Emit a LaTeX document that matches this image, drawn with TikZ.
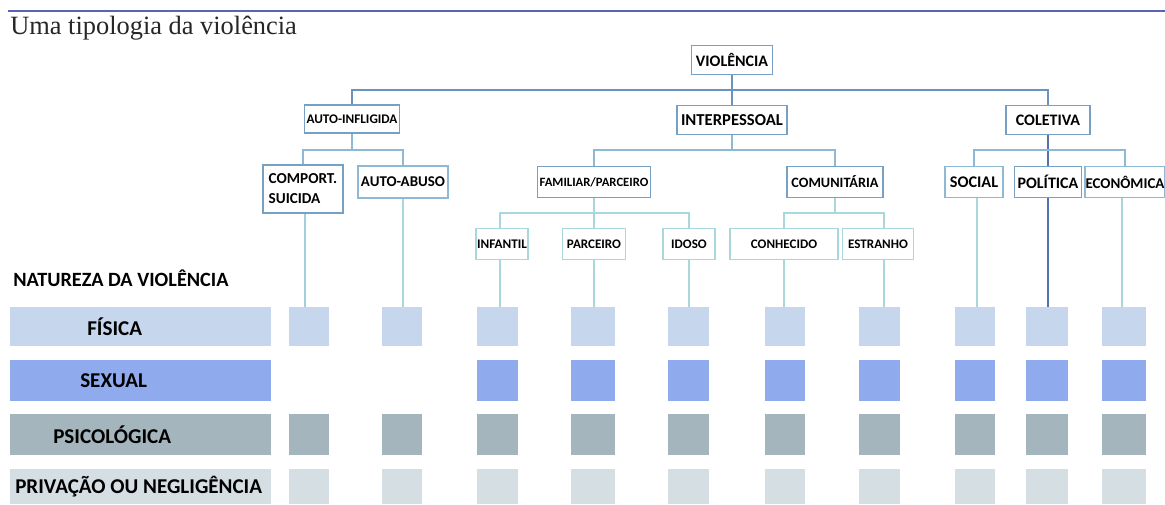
\documentclass[tikz,border=0pt]{standalone}
\usepackage{fontspec}
\setmainfont{Carlito}
\newfontfamily\titlefont{Liberation Serif}
\definecolor{topline}{HTML}{5B63B5}
\definecolor{boxline}{HTML}{76A0C4}
\definecolor{lineA}{HTML}{6A94BE}
\definecolor{lineB}{HTML}{8EB9D4}
\definecolor{lineC}{HTML}{A8D7DC}
\definecolor{linePol}{HTML}{5272B0}
\definecolor{cFis}{HTML}{C6D6EC}
\definecolor{cSex}{HTML}{8FABED}
\definecolor{cPsi}{HTML}{A4B5BD}
\definecolor{cPri}{HTML}{D5DEE3}
\begin{document}
\begin{tikzpicture}[x=0.75pt,y=-0.75pt,
  bx/.style={draw=boxline,line width=1.4pt,fill=white,inner sep=0pt,align=center,font=\bfseries},
  lA/.style={draw=lineA,line width=1.6pt},
  lB/.style={draw=lineB,line width=1.4pt},
  lC/.style={draw=lineC,line width=1.4pt},
  lP/.style={draw=linePol,line width=1.6pt},
  rowlab/.style={anchor=west,inner sep=0pt,font=\fontsize{15.8}{18}\selectfont\bfseries}]
\useasboundingbox (0,0) rectangle (1165,504);
% title
\draw[topline,line width=1.6pt] (8,11) -- (1165,11);
\node[anchor=base west,inner sep=0pt,text=black!85,font=\titlefont\fontsize{19.8}{22}\selectfont] (title) at (10,34) {Uma tipologia da violência};
% tree nodes
\node[bx,minimum width=60.75pt,minimum height=21.75pt,font=\fontsize{12}{13}\selectfont\bfseries] (viol) at (732,60) {VIOLÊNCIA};
\node[bx,minimum width=71.25pt,minimum height=21pt,font=\fontsize{9.9}{11}\selectfont\bfseries] (auto) at (352,119) {AUTO-INFLIGIDA};
\node[bx,minimum width=82.5pt,minimum height=21.75pt,font=\fontsize{12.5}{13}\selectfont\bfseries] (inter) at (732,120) {INTERPESSOAL};
\node[bx,minimum width=63pt,minimum height=21.75pt,font=\fontsize{12}{13}\selectfont\bfseries] (colet) at (1048,120) {COLETIVA};
\node[bx,minimum width=60pt,minimum height=36pt,align=left,font=\fontsize{11.4}{15}\selectfont\bfseries] (comp) at (303,189) {COMPORT.\\SUICIDA};
\node[bx,draw=lineB,minimum width=67.5pt,minimum height=24pt,font=\fontsize{11.2}{13}\selectfont\bfseries] (abuso) at (403,182) {AUTO-ABUSO};
\node[bx,minimum width=84.75pt,minimum height=23.25pt,font=\fontsize{9.5}{11}\selectfont\bfseries] (famil) at (594,182) {FAMILIAR/PARCEIRO};
\node[bx,minimum width=72pt,minimum height=23.25pt,font=\fontsize{10.7}{12}\selectfont\bfseries] (comun) at (835,182) {COMUNITÁRIA};
\node[bx,draw=lineC,minimum width=39pt,minimum height=23.25pt,font=\fontsize{9.9}{11}\selectfont\bfseries] (infan) at (502,244) {INFANTIL};
\node[bx,draw=lineC,minimum width=47.25pt,minimum height=23.25pt,font=\fontsize{9.8}{11}\selectfont\bfseries] (parce) at (594,244) {PARCEIRO};
\node[bx,draw=lineC,minimum width=39pt,minimum height=23.25pt,font=\fontsize{9.8}{11}\selectfont\bfseries] (idoso) at (689,244) {IDOSO};
\node[bx,draw=lineC,minimum width=81pt,minimum height=23.25pt,font=\fontsize{9.8}{11}\selectfont\bfseries] (conhe) at (784,244) {CONHECIDO};
\node[bx,draw=lineC,minimum width=53.25pt,minimum height=23.25pt,font=\fontsize{9.8}{11}\selectfont\bfseries] (estra) at (878,244) {ESTRANHO};
\node[bx,draw=lineB,minimum width=43.5pt,minimum height=23.25pt,font=\fontsize{12.2}{13}\selectfont\bfseries] (social) at (974,182) {SOCIAL};
\node[bx,minimum width=50.25pt,minimum height=23.25pt,font=\fontsize{12}{13}\selectfont\bfseries] (polit) at (1048,182) {POLÍTICA};
\node[bx,draw=lineB,minimum width=60pt,minimum height=23.25pt,font=\fontsize{11.2}{13}\selectfont\bfseries] (econ) at (1125,182) {ECONÔMICA};
% bus coordinates
\coordinate (b1) at (0,90);
\coordinate (b2) at (0,150);
\coordinate (b3) at (0,213);
% level 1
\draw[lA] (viol.south) -- (inter.north);
\draw[lA] (viol.south |- b1) -| (auto.north);
\draw[lA] (viol.south |- b1) -| (colet.north);
% under auto
\draw[lB] (auto.south) -- (auto.south |- b2) -| (comp.north);
\draw[lB] (auto.south |- b2) -| (abuso.north);
% under interpessoal
\draw[lB] (inter.south) -- (inter.south |- b2) -| (famil.north);
\draw[lB] (inter.south |- b2) -| (comun.north);
% under coletiva
\draw[lP] (colet.south) -- (polit.north);
\draw[lB] (colet.south |- b2) -| (social.north);
\draw[lB] (colet.south |- b2) -| (econ.north);
% under familiar
\draw[lC] (famil.south) -- (parce.north);
\draw[lC] (famil.south |- b3) -| ([xshift=-1.5pt]infan.north);
\draw[lC] (famil.south |- b3) -| (idoso.north);
% under comunitaria
\draw[lC] (comun.south) -- (comun.south |- b3) -| (conhe.north);
\draw[lC] (comun.south |- b3) -| ([xshift=4.5pt]estra.north);
% row labels
\node[anchor=west,inner sep=0pt,font=\fontsize{15.2}{18}\selectfont\bfseries] (natur) at (13,278) {NATUREZA DA VIOLÊNCIA};
\fill[cFis] (10,307) rectangle (271,346);
\fill[cSex] (10,360) rectangle (271,401);
\fill[cPsi] (10,414) rectangle (271,455);
\fill[cPri] (10,469) rectangle (271,504);
\node[rowlab] (lfis) at (87,327) {FÍSICA};
\node[rowlab] (lsex) at (80,381) {SEXUAL};
\node[rowlab] (lpsi) at (53,435) {PSICOLÓGICA};
\node[rowlab] (lpri) at (15,487) {PRIVAÇÃO OU NEGLIGÊNCIA};
% squares
\foreach \n/\a/\b in {1/289/329,2/382/422,3/477/518,4/571/615,5/668/709,6/765/805,7/859/900,8/955/995,9/1026/1068,10/1102/1146}{
  \fill[cFis] (\a,307) rectangle (\b,346);
  \coordinate (ft\n) at ({(\a+\b)/2},307);
  \fill[cPsi] (\a,414) rectangle (\b,455);
  \fill[cPri] (\a,469) rectangle (\b,504);
}
\foreach \a/\b in {477/518,571/615,668/709,765/805,859/900,955/995,1026/1068,1102/1146}{
  \fill[cSex] (\a,360) rectangle (\b,401);
}
% verticals to squares
\draw[lC,draw=lineC!75!lineB] ([xshift=1.5pt]comp.south) -- ([xshift=1.5pt]comp.south |- ft1);
\draw[lC] (abuso.south) -- (abuso.south |- ft2);
\draw[lC] ([xshift=-1.5pt]infan.south) -- ([xshift=-1.5pt]infan.south |- ft3);
\draw[lC] (parce.south) -- (parce.south |- ft4);
\draw[lC] (idoso.south) -- (idoso.south |- ft5);
\draw[lC] (conhe.south) -- (conhe.south |- ft6);
\draw[lC] ([xshift=4.5pt]estra.south) -- ([xshift=4.5pt]estra.south |- ft7);
\draw[lC] ([xshift=2pt]social.south) -- ([xshift=2pt]social.south |- ft8);
\draw[lP] (polit.south) -- (polit.south |- ft9);
\draw[lC] ([xshift=-2.25pt]econ.south) -- ([xshift=-2.25pt]econ.south |- ft10);
\end{tikzpicture}
\end{document}
